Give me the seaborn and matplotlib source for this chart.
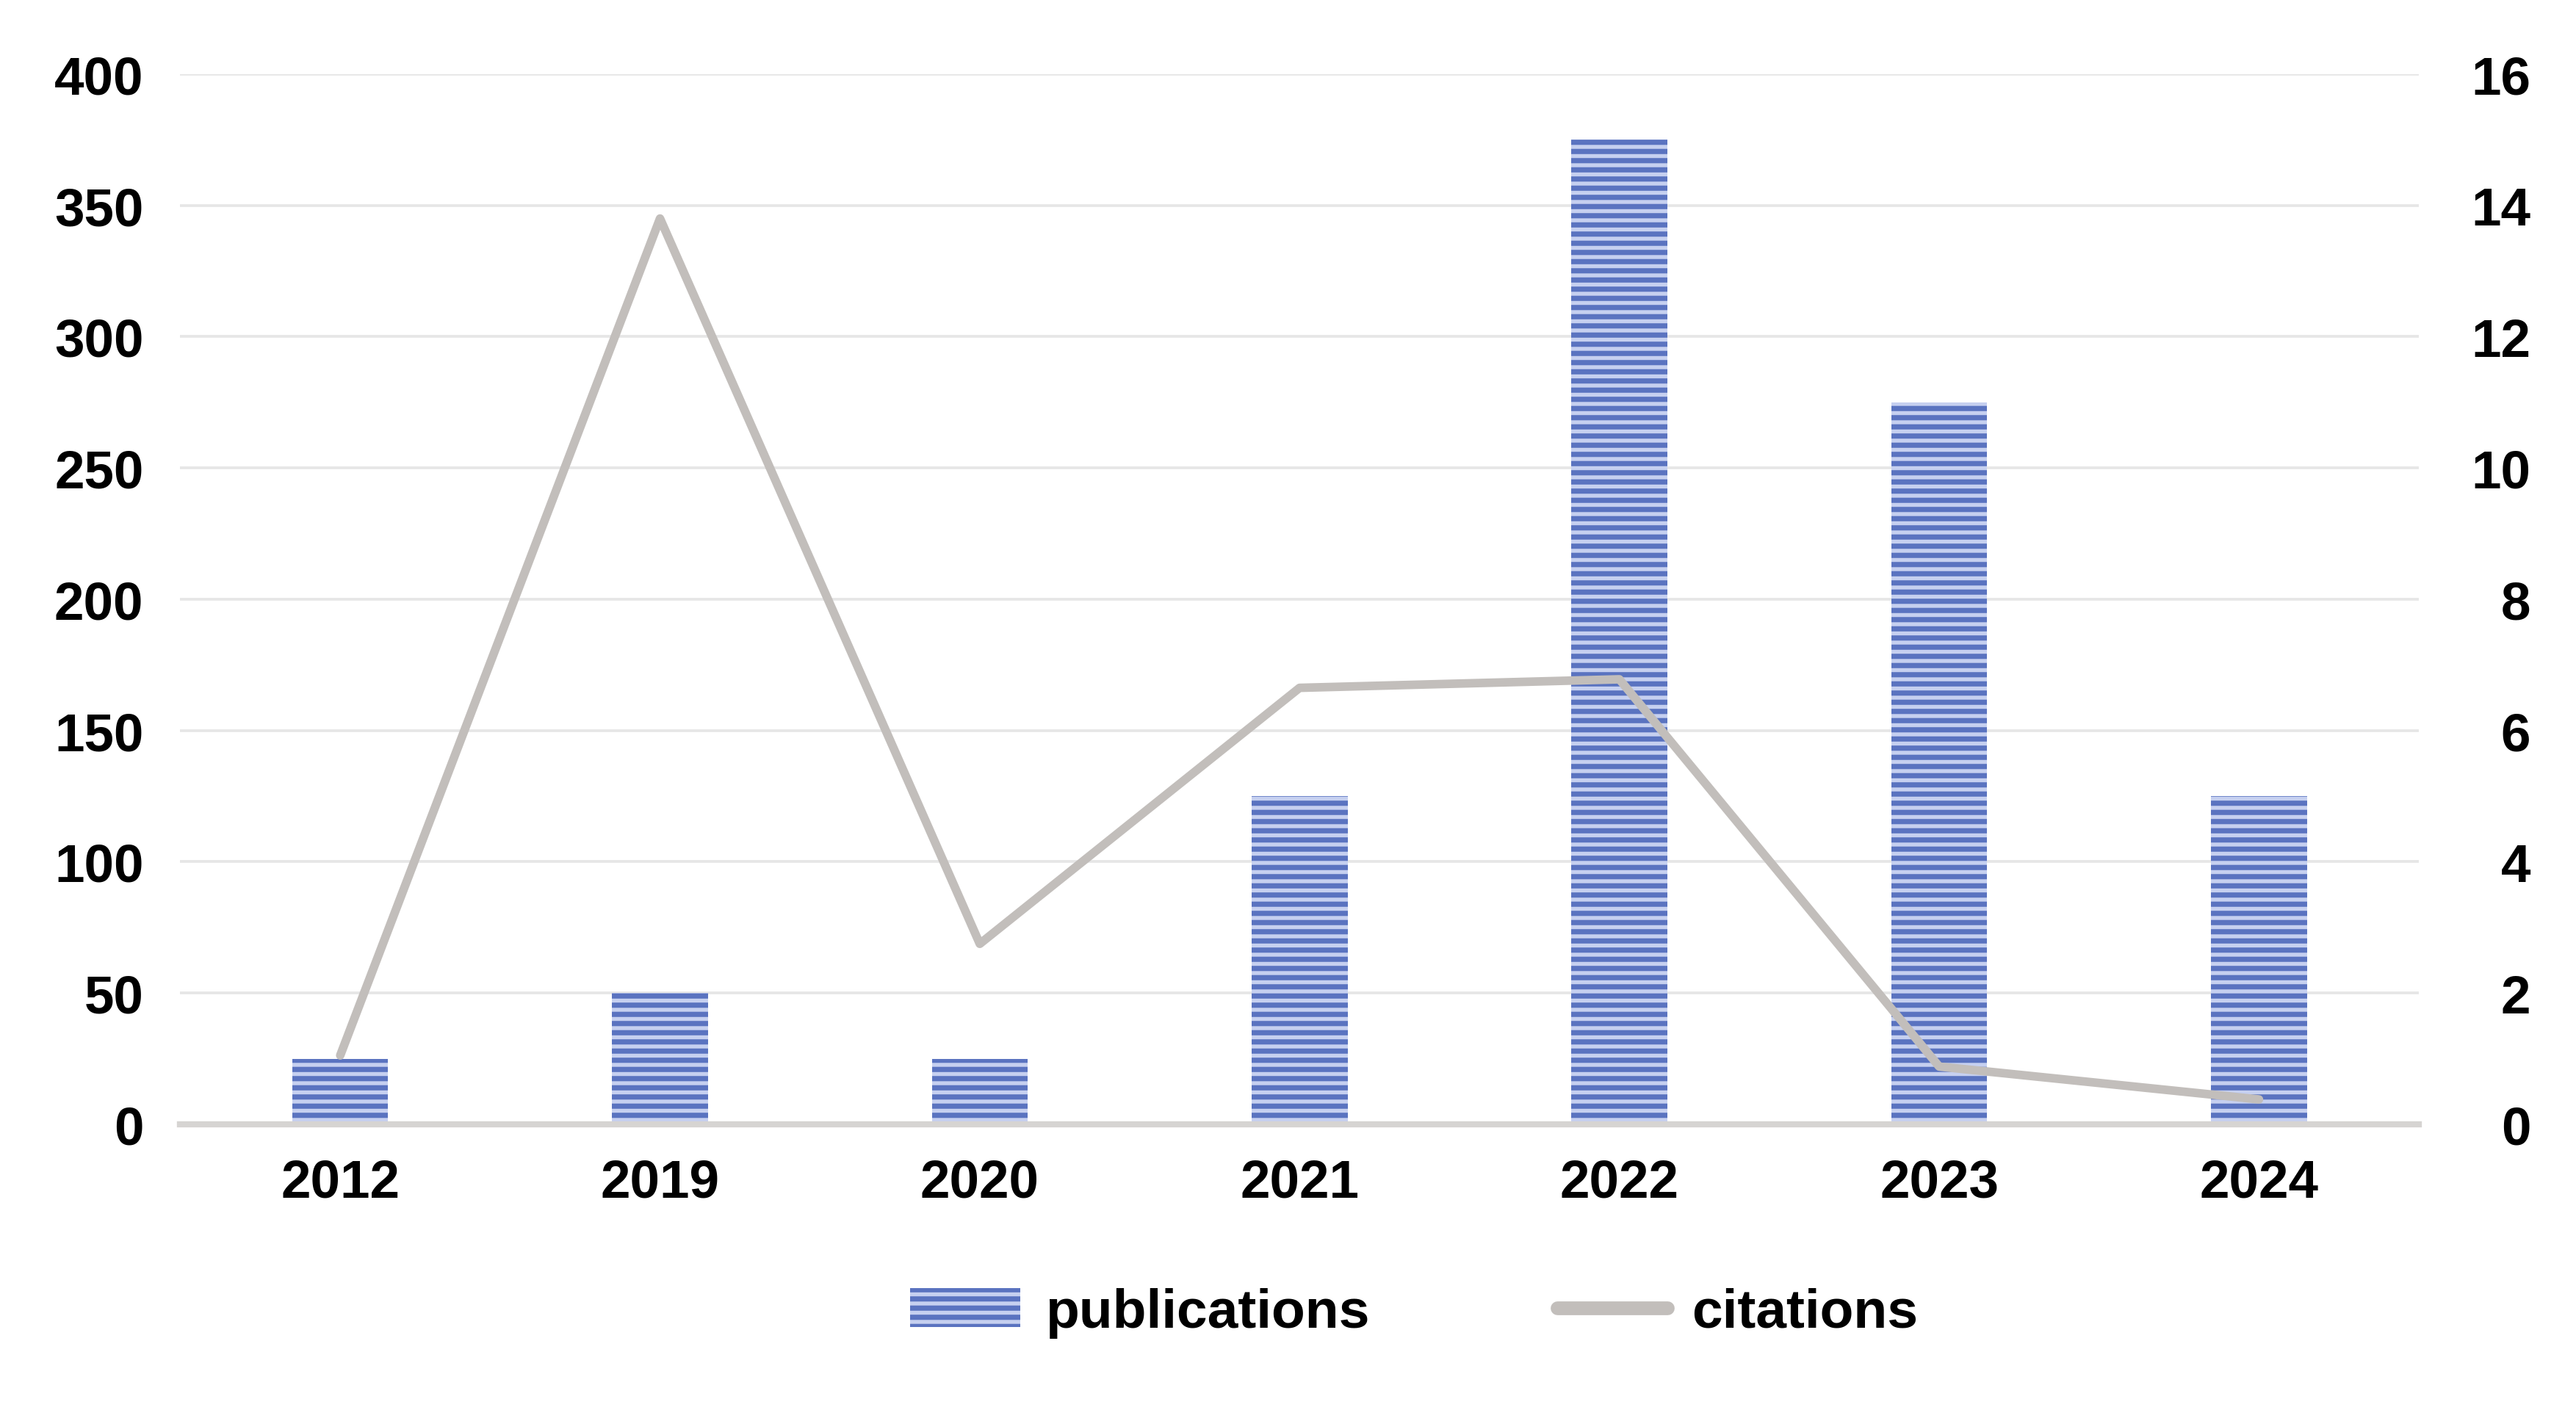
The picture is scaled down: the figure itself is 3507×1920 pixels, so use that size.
import numpy as np
import pandas as pd
import seaborn as sns
import matplotlib.pyplot as plt
from matplotlib.patches import Patch
from matplotlib.lines import Line2D

years = ["2012", "2019", "2020", "2021", "2022", "2023", "2024"]
publications = [25, 50, 25, 125, 375, 275, 125]
citations = [1.05, 13.8, 2.75, 6.65, 6.78, 0.88, 0.38]

bar_face = "#c6d0f0"
hatch_col = "#5a73c0"
line_col = "#c2bebb"

sns.set_theme(style="white")
plt.rcParams['font.family'] = ['Liberation Sans', 'DejaVu Sans']
plt.rcParams['font.weight'] = 'bold'
plt.rcParams['hatch.linewidth'] = 1.7
plt.rcParams['text.color'] = 'black'
plt.rcParams['xtick.color'] = 'black'
plt.rcParams['ytick.color'] = 'black'

df = pd.DataFrame({"year": years, "publications": publications, "citations": citations})

fig = plt.figure(figsize=(11.69, 6.403), dpi=300)
ax = fig.add_axes([0.070, 0.2025, 0.869, 0.7445])

sns.barplot(data=df, x="year", y="publications", ax=ax, width=0.3,
            color=bar_face, saturation=1, linewidth=0, edgecolor=hatch_col)
for p in ax.patches:
    p.set_hatch("----")
    p.set_edgecolor(hatch_col)
    p.set_linewidth(0)

ax.set_ylim(0, 400)
ax.set_yticks(np.arange(0, 401, 50))
ax.set_xlim(-0.5, len(years) - 0.5)
ax.grid(axis="y", color="#e6e6e6", linewidth=0.9)
ax.set_axisbelow(True)
for s in ["top", "right", "left"]:
    ax.spines[s].set_visible(False)
ax.spines["bottom"].set_color("#d6d4d2")
ax.spines["bottom"].set_linewidth(2.0)
ax.set_xlabel("")
ax.set_ylabel("")
ax.tick_params(axis="y", length=0, pad=12, labelsize=17.5, labelcolor="black")
ax.tick_params(axis="x", length=0, pad=11, labelsize=17.5, labelcolor="black")

ax2 = ax.twinx()
sns.pointplot(data=df, x="year", y="citations", ax=ax2, color=line_col,
              markers="", linestyles="-")
for ln in ax2.lines:
    ln.set_linewidth(2.8)
    ln.set_solid_capstyle("round")
    ln.set_solid_joinstyle("round")
ax2.set_ylim(0, 16)
ax2.set_yticks(np.arange(0, 17, 2))
ax2.set_xlim(-0.5, len(years) - 0.5)
for s in ["top", "right", "left", "bottom"]:
    ax2.spines[s].set_visible(False)
ax2.set_ylabel("")
ax2.set_xlabel("")
ax2.grid(False)
ax2.tick_params(axis="y", length=0, pad=36.5, labelsize=17.5, labelcolor="black")
for t in ax2.get_yticklabels():
    t.set_horizontalalignment("right")

handles = [Patch(facecolor=bar_face, edgecolor=hatch_col, hatch="----", linewidth=0),
           Line2D([0], [0], color=line_col, linewidth=4.5, solid_capstyle="round")]
fig.legend(handles, ["publications", "citations"], loc="center",
           bbox_to_anchor=(0.549, 0.069), ncol=2, frameon=False,
           fontsize=18, columnspacing=3.4, handlelength=2.0, handletextpad=0.45)

fig.savefig("out.png", dpi=300, facecolor="white")
